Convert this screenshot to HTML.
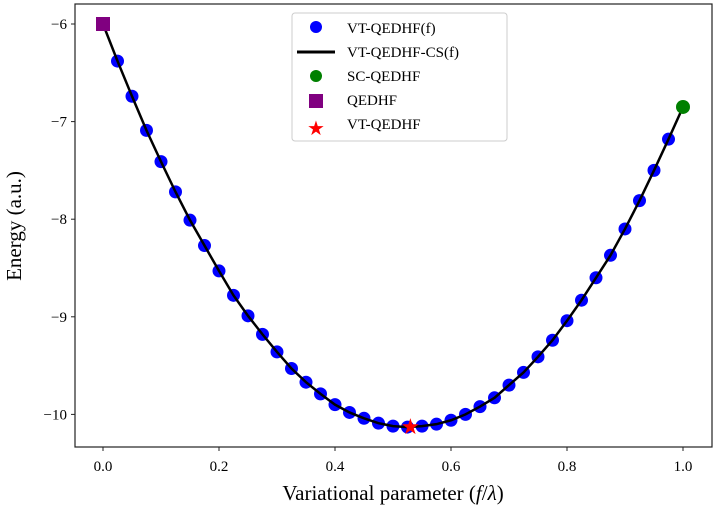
<!DOCTYPE html>
<html><head><meta charset="utf-8"><style>
body{margin:0;background:#fff}
svg text{font-family:"Liberation Serif",serif;fill:#000}
</style></head><body>
<svg id="chart" width="722" height="512" xmlns="http://www.w3.org/2000/svg">
<rect width="722" height="512" fill="#fff"/>
<g id="marks"></g>
<rect x="75" y="4" width="637" height="443" fill="none" stroke="#222" stroke-width="1.2"/>
<g id="axes"></g>
<text x="393" y="500" font-size="21" text-anchor="middle">Variational parameter (<tspan font-style="italic">f</tspan>/<tspan font-style="italic">λ</tspan>)</text>
<text transform="translate(21,226) rotate(-90)" font-size="21" text-anchor="middle">Energy (a.u.)</text>
<g>
<rect x="292" y="13" width="215" height="128" rx="3" fill="#fff" stroke="#ccc"/>
<circle cx="316" cy="27" r="6" fill="#0000ff"/><text x="347" y="33" font-size="15">VT-QEDHF(f)</text>
<line x1="297" y1="52" x2="335" y2="52" stroke="#000" stroke-width="3"/><text x="347" y="57" font-size="15">VT-QEDHF-CS(f)</text>
<circle cx="316" cy="76" r="6" fill="#008000"/><text x="347" y="81" font-size="15">SC-QEDHF</text>
<rect x="309" y="94" width="14" height="14" fill="#800080"/><text x="347" y="105" font-size="15">QEDHF</text>
<text x="316" y="135" font-size="20" fill="#ff0000" text-anchor="middle" style="fill:#f00">★</text><text x="347" y="129" font-size="15">VT-QEDHF</text>
</g>
</svg>
<script>
const fVals=[0.025,0.05,0.075,0.1,0.125,0.15,0.175,0.2,0.225,0.25,0.275,0.3,0.325,0.35,0.375,0.4,0.425,0.45,0.475,0.5,0.525,0.55,0.575,0.6,0.625,0.65,0.675,0.7,0.725,0.75,0.775,0.8,0.825,0.85,0.875,0.9,0.925,0.95,0.975];
const eVals=[-6.38,-6.74,-7.09,-7.41,-7.72,-8.01,-8.27,-8.53,-8.78,-8.99,-9.18,-9.36,-9.53,-9.67,-9.79,-9.90,-9.98,-10.04,-10.09,-10.12,-10.13,-10.12,-10.10,-10.06,-10.00,-9.92,-9.83,-9.70,-9.57,-9.41,-9.24,-9.04,-8.83,-8.60,-8.37,-8.10,-7.81,-7.50,-7.18];
const qedhf=[0,-6.0];
const scqedhf=[1.0,-6.85];
const vtMin=[0.53,-10.13];
const xTicks=[0,0.2,0.4,0.6,0.8,1.0];
const xTickLabels=["0.0","0.2","0.4","0.6","0.8","1.0"];
const yTicks=[-6,-7,-8,-9,-10];
const yTickLabels=["−6","−7","−8","−9","−10"];
const X=v=>103+v*580, Y=v=>24+(-6-v)*97.6;
const NS="http://www.w3.org/2000/svg";
const m=document.getElementById('marks'), ax=document.getElementById('axes');
function mk(p,tag,at){const e=document.createElementNS(NS,tag);for(const k in at)e.setAttribute(k,at[k]);p.appendChild(e);return e;}
xTicks.forEach((t,i)=>{
 const l=mk(ax,'line',{x1:X(t),x2:X(t),y1:447,y2:451,stroke:'#222'});
 
 
 const tx=mk(ax,'text',{x:X(t),y:471,'font-size':15,'text-anchor':'middle'});tx.textContent=xTickLabels[i];
 
 
});
yTicks.forEach((t,i)=>{
 const l=mk(ax,'line',{x1:71,x2:75,y1:Y(t),y2:Y(t),stroke:'#222'});
 
 
 const tx=mk(ax,'text',{x:67,y:Y(t)+5,'font-size':15,'text-anchor':'end'});tx.textContent=yTickLabels[i];
 
 
});
fVals.forEach((f,i)=>{
 const c=mk(m,'circle',{cx:X(f),cy:Y(eVals[i]),r:6.5,fill:'#0000ff'});
 
 
});
const pts=[[qedhf[0],qedhf[1]]].concat(fVals.map((f,i)=>[f,eVals[i]])).concat([[scqedhf[0],scqedhf[1]]]);
const line=mk(m,'polyline',{points:pts.map(p=>X(p[0])+','+Y(p[1])).join(' '),fill:'none',stroke:'#000','stroke-width':2.5});


const sq=mk(m,'rect',{x:X(qedhf[0])-7,y:Y(qedhf[1])-7,width:14,height:14,fill:'#800080'});


const g=mk(m,'circle',{cx:X(scqedhf[0]),cy:Y(scqedhf[1]),r:7,fill:'#008000'});


const st=mk(m,'text',{x:X(vtMin[0]),y:Y(vtMin[1])+7,'font-size':22,'text-anchor':'middle',style:'fill:#f00'});st.textContent='★';


</script>
</body></html>
